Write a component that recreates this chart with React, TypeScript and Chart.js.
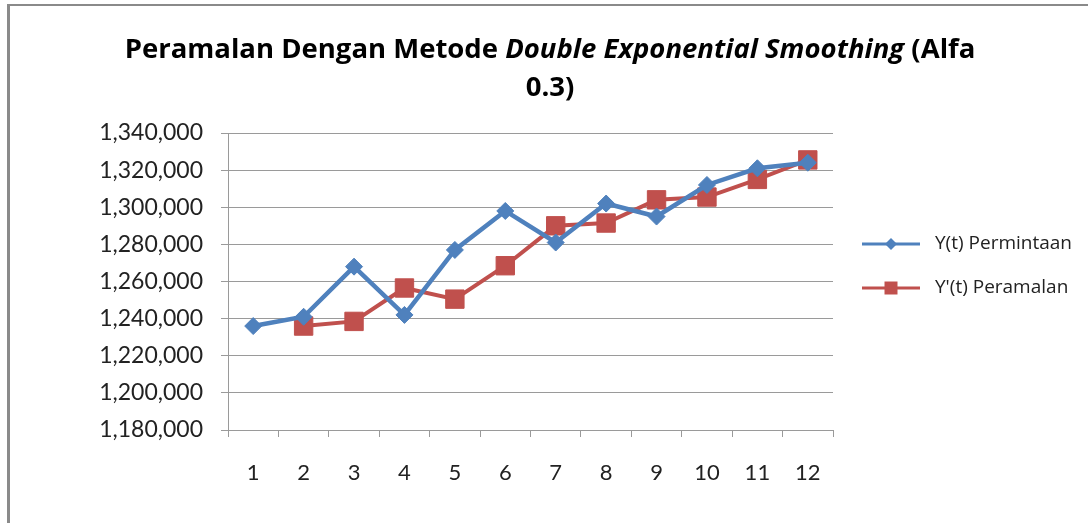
import React, { useEffect, useRef } from "react";
import { Chart, registerables } from "chart.js";

Chart.register(...registerables);

const periods = ["1", "2", "3", "4", "5", "6", "7", "8", "9", "10", "11", "12"];
const permintaan = [1236000, 1241000, 1268000, 1242000, 1277000, 1298000, 1281000, 1302000, 1295000, 1312000, 1321000, 1324000];
const peramalan = [null, 1236000, 1238500, 1256500, 1250500, 1268500, 1290000, 1291500, 1304000, 1305500, 1315000, 1325500];
const seriesLabels = ["Y(t) Permintaan", "Y'(t) Peramalan"];
const titleLine1 = [
  { text: "Peramalan Dengan Metode ", italic: false },
  { text: "Double Exponential Smoothing", italic: true },
  { text: " (Alfa", italic: false },
];
const titleLine2 = "0.3)";
const yMin = 1180000;
const yMax = 1340000;
const yStep = 20000;

const BLUE = "#4F81BD";
const RED = "#C0504D";
const GRID = "#9a9a9a";
const FONT = "Lato, 'Open Sans', sans-serif";
const TFONT = "'Open Sans', Lato, sans-serif";

const framePlugin = {
  id: "frame",
  beforeDraw(chart: any) {
    const ctx = chart.ctx;
    ctx.save();
    ctx.fillStyle = "#ffffff";
    ctx.fillRect(0, 0, chart.width, chart.height);
    ctx.fillStyle = "#8a8a8a";
    ctx.fillRect(7, 4, chart.width - 7, 2);
    ctx.fillRect(7, 4, 3, chart.height - 4);
    ctx.restore();
  },
};

const titlePlugin = {
  id: "mixedTitle",
  afterDraw(chart: any) {
    const ctx = chart.ctx;
    const size = 27.5;
    const fontFor = (it: boolean) => `${it ? "italic " : ""}bold ${size}px ${TFONT}`;
    ctx.save();
    ctx.fillStyle = "#000000";
    ctx.textBaseline = "middle";
    ctx.textAlign = "left";
    let total = 0;
    const widths = titleLine1.map((s) => {
      ctx.font = fontFor(s.italic);
      const w = ctx.measureText(s.text).width;
      total += w;
      return w;
    });
    const cx = 550;
    let x = cx - total / 2;
    titleLine1.forEach((s, i) => {
      ctx.font = fontFor(s.italic);
      ctx.fillText(s.text, x, 50);
      x += widths[i];
    });
    ctx.font = fontFor(false);
    ctx.textAlign = "center";
    ctx.fillText(titleLine2, cx, 88);
    ctx.restore();
  },
};

const legendPlugin = {
  id: "lineLegend",
  afterDraw(chart: any) {
    const ctx = chart.ctx;
    const area = chart.chartArea;
    ctx.save();
    chart.data.datasets.forEach((ds: any, i: number) => {
      const y = area.top + 111 + i * 44;
      const x0 = area.right + 29;
      const x1 = x0 + 58;
      const mx = (x0 + x1) / 2;
      ctx.strokeStyle = ds.borderColor;
      ctx.lineWidth = 3;
      ctx.beginPath();
      ctx.moveTo(x0, y);
      ctx.lineTo(x1, y);
      ctx.stroke();
      ctx.fillStyle = ds.backgroundColor;
      ctx.beginPath();
      if (ds.pointStyle === "rectRot") {
        const r = 6;
        ctx.moveTo(mx - r, y);
        ctx.lineTo(mx, y - r);
        ctx.lineTo(mx + r, y);
        ctx.lineTo(mx, y + r);
        ctx.closePath();
      } else {
        ctx.rect(mx - 6.5, y - 6.5, 13, 13);
      }
      ctx.fill();
      ctx.fillStyle = "#222222";
      ctx.font = `19px ${TFONT}`;
      ctx.textBaseline = "middle";
      ctx.textAlign = "left";
      ctx.fillText(ds.label, x1 + 15, y);
    });
    ctx.restore();
  },
};

export default function App() {
  const ref = useRef<HTMLCanvasElement | null>(null);
  useEffect(() => {
    if (!ref.current) return;
    const chart = new Chart(ref.current, {
      type: "line",
      data: {
        labels: periods,
        datasets: [
          {
            label: seriesLabels[0],
            data: permintaan,
            borderColor: BLUE,
            backgroundColor: BLUE,
            borderWidth: 4.5,
            pointStyle: "rectRot",
            pointRadius: 8.5,
            pointBorderWidth: 1,
            pointBackgroundColor: BLUE,
            pointBorderColor: BLUE,
            tension: 0,
          },
          {
            label: seriesLabels[1],
            data: peramalan,
            borderColor: RED,
            backgroundColor: RED,
            borderWidth: 4,
            pointStyle: "rect",
            pointRadius: 13,
            pointBorderWidth: 1,
            pointBackgroundColor: RED,
            pointBorderColor: RED,
            tension: 0,
          },
        ],
      },
      options: {
        responsive: false,
        animation: false,
        layout: { padding: { top: 133, right: 255, bottom: 33, left: 0 } },
        plugins: {
          legend: { display: false },
          title: { display: false },
          tooltip: { enabled: false },
        },
        scales: {
          x: {
            offset: true,
            afterFit: (s: any) => {
              s.height = 60;
            },
            grid: {
              offset: true,
              drawOnChartArea: false,
              drawTicks: true,
              tickLength: 7,
              color: GRID,
            },
            border: { display: true, color: GRID, width: 1 },
            ticks: {
              color: "#222222",
              padding: 23,
              font: { family: FONT, size: 22 },
              maxRotation: 0,
            },
          },
          y: {
            min: yMin,
            max: yMax,
            afterFit: (s: any) => {
              s.width = 228;
            },
            grid: { color: GRID, drawTicks: true, tickLength: 7 },
            border: { display: true, color: GRID, width: 1 },
            ticks: {
              stepSize: yStep,
              color: "#222222",
              padding: 18,
              font: { family: FONT, size: 23 },
              callback: (v: any) => Number(v).toLocaleString("en-US"),
            },
          },
        },
      },
      plugins: [framePlugin, titlePlugin, legendPlugin],
    });
    return () => chart.destroy();
  }, []);
  return (
    <div style={{ position: "absolute", left: 0, top: 0, width: 1088, height: 523 }}>
      <canvas ref={ref} width={1088} height={523} />
    </div>
  );
}
